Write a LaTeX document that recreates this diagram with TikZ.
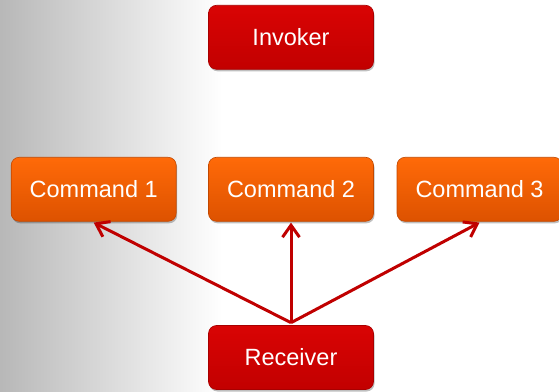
\documentclass[tikz,border=0pt]{standalone}
\usepackage{fontspec}
\setmainfont{Liberation Sans}
\usetikzlibrary{arrows.meta,shadows}
\definecolor{redtop}{HTML}{D90404}
\definecolor{redbot}{HTML}{C20000}
\definecolor{redline}{HTML}{A80000}
\definecolor{orangetop}{HTML}{FF6A08}
\definecolor{orangebot}{HTML}{DD5200}
\definecolor{orangeline}{HTML}{C24800}
\definecolor{arrowred}{HTML}{C00000}
\tikzset{
  boxbase/.style={rounded corners=8pt, minimum width=165pt, minimum height=64pt,
    text=white, font=\fontsize{23.5}{28}\selectfont, line width=0.6pt,
    drop shadow={shadow xshift=1pt, shadow yshift=-2pt, opacity=0.25, fill=black}},
  redbox/.style={boxbase, top color=redtop, bottom color=redbot, draw=redline},
  orangebox/.style={boxbase, top color=orangetop, bottom color=orangebot, draw=orangeline},
  link/.style={draw=arrowred, line width=3pt, -{Straight Barb[length=12pt,width=17pt,line width=3pt]}}
}
\begin{document}
\begin{tikzpicture}[x=1pt,y=1pt]
\useasboundingbox (0,0) rectangle (559,391);
\fill[white] (0,0) rectangle (559,391);
\shade[left color=black!28, right color=white] (0,0) rectangle (222,391);
\node[redbox] (inv) at (291,353.7) {Invoker};
\node[orangebox] (c1) at (93.7,201.7) {Command 1};
\node[orangebox] (c2) at (291,201.7) {Command 2};
\node[orangebox] (c3) at (479.5,201.7) {Command 3};
\node[redbox] (rec) at (291,33.5) {Receiver};
\coordinate (src) at ([yshift=2.5pt]rec.north);
\draw[link] (src) -- ([yshift=-1pt]c1.south);
\draw[link] (src) -- ([yshift=-1pt]c2.south);
\draw[link] (src) -- ([yshift=-1pt]c3.south);
\end{tikzpicture}
\end{document}
